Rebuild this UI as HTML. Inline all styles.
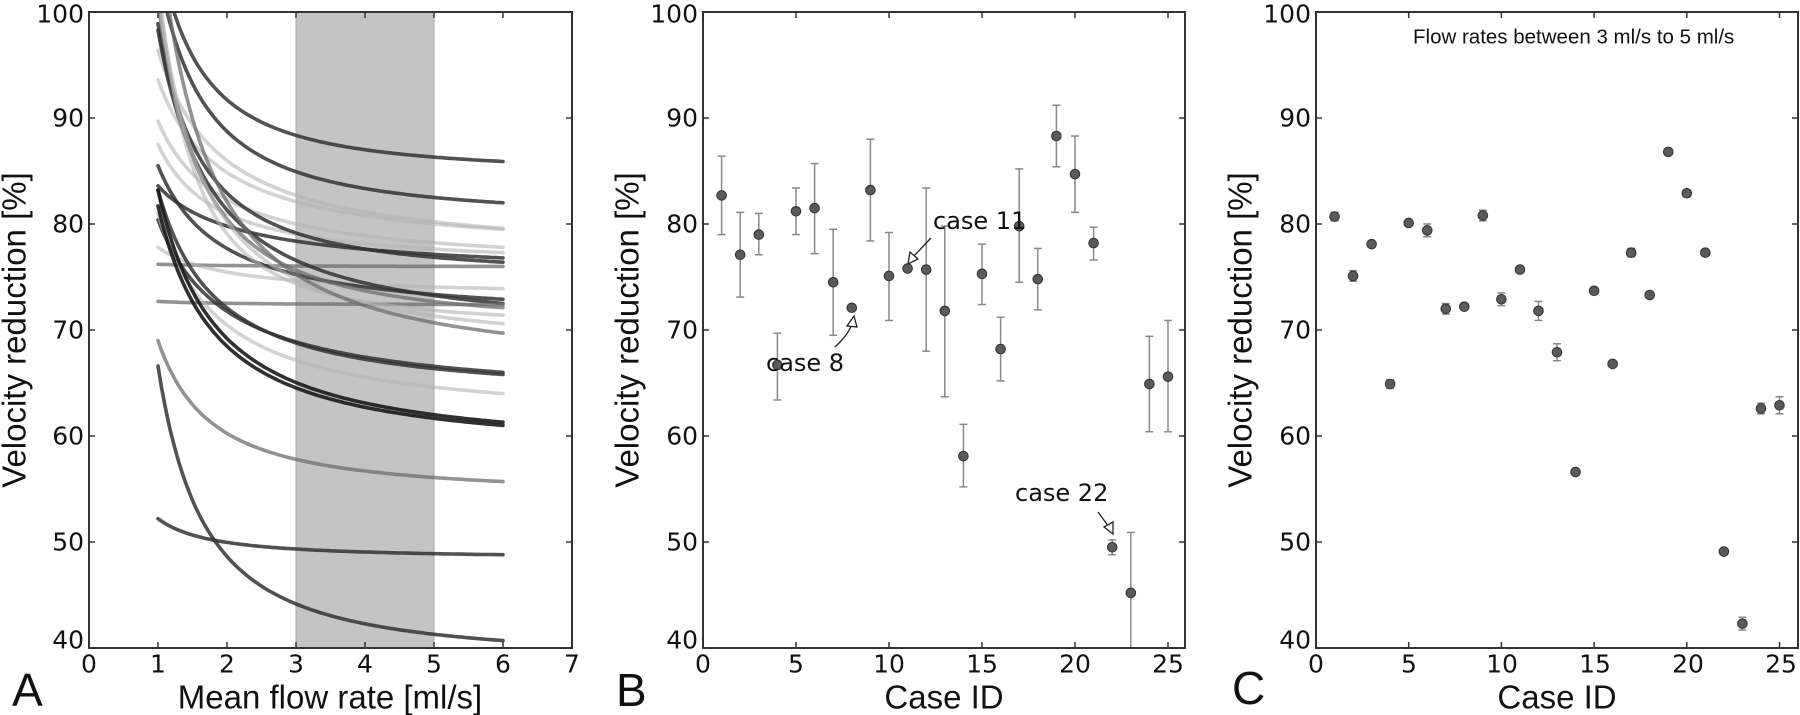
<!DOCTYPE html>
<html><head><meta charset="utf-8"><style>
html,body{margin:0;padding:0;background:#fff;}
svg{display:block;font-family:"Liberation Sans",sans-serif;}
.dv{font-family:"DejaVu Sans","Liberation Sans",sans-serif;}
</style></head><body>
<svg id="s" width="1800" height="715" viewBox="0 0 1800 715" xmlns="http://www.w3.org/2000/svg">
<defs>
<clipPath id="ca"><rect x="89" y="12" width="483" height="636"/></clipPath>
<clipPath id="cb"><rect x="703" y="12" width="482" height="636"/></clipPath>
</defs>
<rect x="296" y="12" width="138" height="636" fill="#c4c4c4" stroke="#aaa" stroke-width="1"/>
<g id="curves" clip-path="url(#ca)" fill="none" stroke-linecap="round"></g>
<g id="pb" clip-path="url(#cb)"></g>
<g id="pc"></g>
<g id="frames" fill="none" stroke="#333" stroke-width="2"></g>
<g id="ticks" stroke="#333" stroke-width="1.5"></g>
<g font-size="25" fill="#111" class="dv">
<g text-anchor="end" dominant-baseline="central" id="ylab">
<text x="84" y="14">100</text><text x="84" y="118">90</text><text x="84" y="224">80</text><text x="84" y="330">70</text><text x="84" y="436">60</text><text x="84" y="542">50</text><text x="84" y="640">40</text>
<text x="698" y="14">100</text><text x="698" y="118">90</text><text x="698" y="224">80</text><text x="698" y="330">70</text><text x="698" y="436">60</text><text x="698" y="542">50</text><text x="698" y="640">40</text>
<text x="1311" y="14">100</text><text x="1311" y="118">90</text><text x="1311" y="224">80</text><text x="1311" y="330">70</text><text x="1311" y="436">60</text><text x="1311" y="542">50</text><text x="1311" y="640">40</text>
</g>
<g text-anchor="middle" dominant-baseline="central">
<text x="89" y="664">0</text><text x="158" y="664">1</text><text x="227" y="664">2</text><text x="296" y="664">3</text><text x="365" y="664">4</text><text x="434" y="664">5</text><text x="503" y="664">6</text><text x="572" y="664">7</text>
<text x="703" y="664">0</text><text x="796" y="664">5</text><text x="889" y="664">10</text><text x="982" y="664">15</text><text x="1075" y="664">20</text><text x="1168" y="664">25</text>
<text x="1316" y="664">0</text><text x="1409" y="664">5</text><text x="1502" y="664">10</text><text x="1595" y="664">15</text><text x="1688" y="664">20</text><text x="1781" y="664">25</text>
</g>
</g>
<g font-size="33" fill="#111" text-anchor="middle" dominant-baseline="central">
<text x="330" y="697">Mean flow rate [ml/s]</text>
<text x="944" y="697">Case ID</text>
<text x="1557" y="697">Case ID</text>
<text transform="translate(14,330) rotate(-90)">Velocity reduction [%]</text>
<text transform="translate(627,330) rotate(-90)">Velocity reduction [%]</text>
<text transform="translate(1240,330) rotate(-90)">Velocity reduction [%]</text>
</g>
<g font-size="46" fill="#111" dominant-baseline="central">
<text x="12" y="690">A</text><text x="616" y="690">B</text><text x="1232" y="688">C</text>
</g>
<text x="1413" y="37" font-size="20.5" fill="#111" dominant-baseline="central">Flow rates between 3 ml/s to 5 ml/s</text>
<g font-size="24" fill="#111" dominant-baseline="central" class="dv">
<text x="933" y="221">case 11</text>
<text x="766" y="363">case 8</text>
<text x="1015" y="493">case 22</text>
</g>
<g fill="none" stroke="#222" stroke-width="1.3">
<path d="M931,238 L912,258"/>
<polygon points="908,264 910,252 918,259" fill="#fff"/>
<path d="M835,347 Q848,335 852,324"/>
<polygon points="854,316 847,326 857,327" fill="#fff"/>
<path d="M1098,512 L1109,527"/>
<polygon points="1113,534 1104,527 1113,522" fill="#fff"/>
</g>
</svg>
<script>
(function(){
var NS="http://www.w3.org/2000/svg";
function el(p,t,a){var e=document.createElementNS(NS,t);for(var k in a)e.setAttribute(k,a[k]);p.appendChild(e);return e;}
var yv=function(v){return 12+(100-v)*10.6;};
var D="rgba(50,50,50,0.85)",M="rgba(110,110,110,0.75)",L="rgba(180,180,180,0.6)",K="rgba(25,25,25,0.9)";
var C=[[106,85.9,1.6,D],[104,82.0,1.5,D],[96.4,79.6,1.1,L],[93.6,79.5,1.1,L],[89.7,77.8,1.1,L],[87.5,77.3,1.2,L],
[83.6,76.8,0.8,D],[98.9,76.4,1.6,D],[76.2,76.0,1,M],[77.8,73.9,1,L],[85.5,72.9,1.1,D],[98.3,72.5,1.3,D],
[72.7,72.4,1,M],[101,72.1,1.6,M],[103,71.4,1.9,L],[102,70.6,1.5,L],[108,69.7,1.4,M],[80.4,66.0,1.0,D],
[83.2,65.8,1.2,D],[81,64.0,1.1,L],[83.2,61.3,1.2,K],[81.7,61.0,1.2,K],[69,55.7,1.3,M],[52.2,48.8,1.3,D],[66.6,40.7,1.5,D]];
var g=document.getElementById("curves");
C.forEach(function(c){var d="",q=Math.pow(6,-c[2]);
for(var i=0;i<=100;i++){var x=1+5*i/100;var v=c[1]+(c[0]-c[1])*(Math.pow(x,-c[2])-q)/(1-q);
d+=(i?"L":"M")+(89+69*x).toFixed(1)+","+yv(v).toFixed(1);}
el(g,"path",{d:d,stroke:c[3],"stroke-width":3.6});});
function pts(gid,x0,u,data){var g=document.getElementById(gid);
data.forEach(function(p,i){var x=x0+u*(i+1);
if(p[1]!=null){el(g,"line",{x1:x,x2:x,y1:yv(p[1]),y2:yv(p[2]),stroke:"#888","stroke-width":1.5});
[p[1],p[2]].forEach(function(w){el(g,"line",{x1:x-4,x2:x+4,y1:yv(w),y2:yv(w),stroke:"#888","stroke-width":1.5});});}
el(g,"circle",{cx:x,cy:yv(p[0]),r:4.8,fill:"#5a5a5a",stroke:"#333","stroke-width":1});});}
pts("pb",703,18.6,[[82.7,86.4,79],[77.1,81.1,73.1],[79.0,81.0,77.1],[66.7,69.7,63.4],[81.2,83.4,79.0],[81.5,85.7,77.2],[74.5,79.5,69.5],[72.1],[83.2,88.0,78.4],[75.1,79.2,70.9],[75.8],[75.7,83.4,68.0],[71.8,79.8,63.7],[58.1,61.1,55.2],[75.3,78.1,72.4],[68.2,71.2,65.2],[79.8,85.2,74.5],[74.8,77.7,71.9],[88.3,91.2,85.4],[84.7,88.3,81.1],[78.2,79.7,76.6],[49.5,50.2,48.8],[45.2,50.9,39],[64.9,69.4,60.4],[65.6,70.9,60.4]]);
function pm(v,e){return e?[v,v+e,v-e]:[v];}
pts("pc",1316,18.54,[pm(80.7,.4),pm(75.1,.5),pm(78.1,.2),pm(64.9,.4),pm(80.1,.2),pm(79.4,.6),pm(72.0,.5),pm(72.2),pm(80.8,.5),pm(72.9,.6),pm(75.7),pm(71.8,.9),pm(67.9,.8),pm(56.6),pm(73.7,.3),pm(66.8),pm(77.3,.4),pm(73.3,.2),pm(86.8,.3),pm(82.9,.3),pm(77.3,.1),pm(49.1),pm(42.3,.6),pm(62.6,.5),pm(62.9,.8)]);
var f=document.getElementById("frames"),t=document.getElementById("ticks");
[[89,572,69,8],[703,1185,93,6],[1316,1798,92.7,6]].forEach(function(a){
el(f,"rect",{x:a[0],y:12,width:a[1]-a[0],height:636});
for(var i=0;i<a[3];i++){var x=a[0]+a[2]*i;if(x>a[1]+1)break;
el(t,"line",{x1:x,x2:x,y1:648,y2:642});el(t,"line",{x1:x,x2:x,y1:12,y2:18});}
for(var v=40;v<=100;v+=10){var y=yv(v);el(t,"line",{x1:a[0],x2:a[0]+6,y1:y,y2:y});el(t,"line",{x1:a[1],x2:a[1]-6,y1:y,y2:y});}
});
})();
</script>
</body></html>
